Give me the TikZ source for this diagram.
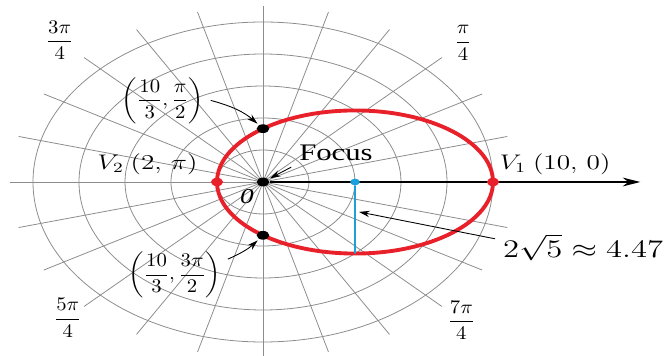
\documentclass[tikz,border=0pt]{standalone}
\usepackage{amsmath}
\usepackage{fontspec}
\setmainfont{Liberation Serif}
\usetikzlibrary{arrows.meta, positioning}
\definecolor{curvered}{HTML}{E8202A}
\definecolor{centerblue}{HTML}{1BA0DC}
\definecolor{gridgray}{HTML}{8C8C8C}

\begin{document}
\begin{tikzpicture}[
    x=0.32cm, y=0.32cm, xscale=1.4375,
    every node/.style={transform shape},
    gridline/.style={draw=gridgray, line width=0.45pt},
    dot/.style={circle, fill, inner sep=0pt, minimum size=5pt},
    fraclabel/.style={xscale=0.75, font=\fontsize{11}{13}\selectfont},
    ptlabel/.style={xscale=0.9, font=\fontsize{12}{14}\selectfont},
    callout/.style={draw, line width=0.5pt, -{Stealth[length=6pt, width=3.6pt]}, shorten >=1pt}
  ]
  \useasboundingbox (-11.435,-10.875) rectangle (17.739,11.375);
  \foreach \r in {2,4,...,10}
    \draw[gridline] (0,0) circle[radius=\r];
  \foreach \a in {0,15,...,345}
    \draw[gridline] (0,0) -- (\a:11);
  \draw[curvered, line width=2.2pt] (4,0) ellipse[x radius=6, y radius=4.472];

  \node[dot] (pole) at (0,0) {};
  \coordinate (axisend) at (16.4,0);
  \draw[line width=0.7pt, -{Stealth[length=10pt, width=5pt]}] (pole) -- (axisend);
  \node[dot, centerblue, minimum size=3.8pt] (ctr) at (4,0) {};
  \coordinate (cbot) at (4,-4.472);
  \draw[centerblue, line width=1.1pt] (ctr) -- (cbot);
  \node[dot, curvered, minimum size=4.8pt] (v1) at (10,0) {};
  \node[dot, curvered, minimum size=4.8pt] (v2) at (-2,0) {};
  \node[dot] (pa) at (0,3.333) {};
  \node[dot] (pb) at (0,-3.333) {};

  \node[fraclabel] (lblA) at (135:12.5) {$\dfrac{3\pi}{4}$};
  \node[fraclabel] (lblB) at (45:12.3) {$\dfrac{\pi}{4}$};
  \node[fraclabel] (lblC) at (225:12.0) {$\dfrac{5\pi}{4}$};
  \node[fraclabel] (lblD) at (315:12.2) {$\dfrac{7\pi}{4}$};

  \node[fraclabel] (pal) at (-4.35,5.1) {$\left(\dfrac{10}{3}, \dfrac{\pi}{2}\right)$};
  \draw[callout] (pal.east) to[bend left=15] (pa);
  \node[fraclabel] (pbl) at (-3.83,-5.81) {$\left(\dfrac{10}{3}, \dfrac{3\pi}{2}\right)$};
  \draw[callout] ([yshift=9pt]pbl.east) to[bend right=10] (pb);

  \node[ptlabel, anchor=south east] (v2l) at (-2.5,0.05) {$V_2\ (2,\,\pi)$};
  \node[ptlabel, anchor=south west] (v1l) at (9.95,0.05) {$V_1\ (10,\,0)$};
  \node[ptlabel, font=\fontsize{13.5}{15}\selectfont] (focl) at (3.17,1.81) {Focus};
  \draw[callout] (focl.south west) -- (pole);
  \node[ptlabel] (polel) at (-0.7,-0.9) {\textit{0}};

  \node[ptlabel, xscale=1, font=\fontsize{14.5}{16}\selectfont, anchor=west] (bl) at (10.09,-4.1) {$2\sqrt{5}\approx 4.47$};
  \coordinate (bmid) at (4.1,-1.85);
  \draw[callout] ([yshift=5pt]bl.west) -- (bmid);
\end{tikzpicture}
\end{document}
